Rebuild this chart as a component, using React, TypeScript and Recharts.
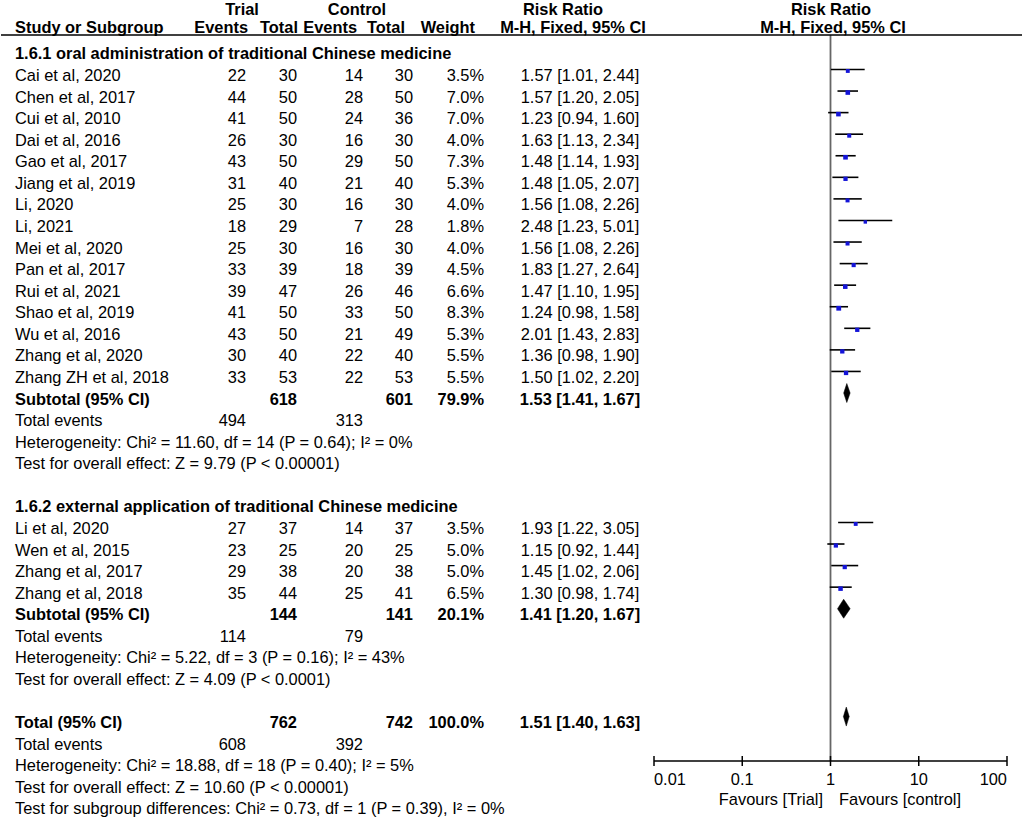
import React from "react";
import {
  ErrorBar,
  ReferenceLine,
  Scatter,
  ScatterChart,
  XAxis,
  YAxis,
} from "recharts";

// 1.6.1 oral administration
const oralStudies = [
  "Cai et al, 2020",
  "Chen et al, 2017",
  "Cui et al, 2010",
  "Dai et al, 2016",
  "Gao et al, 2017",
  "Jiang et al, 2019",
  "Li, 2020",
  "Li, 2021",
  "Mei et al, 2020",
  "Pan et al, 2017",
  "Rui et al, 2021",
  "Shao et al, 2019",
  "Wu et al, 2016",
  "Zhang et al, 2020",
  "Zhang ZH et al, 2018",
];
const oralTrialEvents = [22, 44, 41, 26, 43, 31, 25, 18, 25, 33, 39, 41, 43, 30, 33];
const oralTrialTotal = [30, 50, 50, 30, 50, 40, 30, 29, 30, 39, 47, 50, 50, 40, 53];
const oralControlEvents = [14, 28, 24, 16, 29, 21, 16, 7, 16, 18, 26, 33, 21, 22, 22];
const oralControlTotal = [30, 50, 36, 30, 50, 40, 30, 28, 30, 39, 46, 50, 49, 40, 53];
const oralWeight = [3.5, 7.0, 7.0, 4.0, 7.3, 5.3, 4.0, 1.8, 4.0, 4.5, 6.6, 8.3, 5.3, 5.5, 5.5];
const oralRR = [1.57, 1.57, 1.23, 1.63, 1.48, 1.48, 1.56, 2.48, 1.56, 1.83, 1.47, 1.24, 2.01, 1.36, 1.5];
const oralLow = [1.01, 1.2, 0.94, 1.13, 1.14, 1.05, 1.08, 1.23, 1.08, 1.27, 1.1, 0.98, 1.43, 0.98, 1.02];
const oralHigh = [2.44, 2.05, 1.6, 2.34, 1.93, 2.07, 2.26, 5.01, 2.26, 2.64, 1.95, 1.58, 2.83, 1.9, 2.2];

// 1.6.2 external application
const extStudies = ["Li et al, 2020", "Wen et al, 2015", "Zhang et al, 2017", "Zhang et al, 2018"];
const extTrialEvents = [27, 23, 29, 35];
const extTrialTotal = [37, 25, 38, 44];
const extControlEvents = [14, 20, 20, 25];
const extControlTotal = [37, 25, 38, 41];
const extWeight = [3.5, 5.0, 5.0, 6.5];
const extRR = [1.93, 1.15, 1.45, 1.3];
const extLow = [1.22, 0.92, 1.02, 0.98];
const extHigh = [3.05, 1.44, 2.06, 1.74];

// subtotals and overall
const pooledLabels = ["Subtotal (95% CI)", "Subtotal (95% CI)", "Total (95% CI)"];
const pooledTrialTotal = [618, 144, 762];
const pooledControlTotal = [601, 141, 742];
const pooledWeight = [79.9, 20.1, 100.0];
const pooledRR = [1.53, 1.41, 1.51];
const pooledLow = [1.41, 1.2, 1.4];
const pooledHigh = [1.67, 1.67, 1.63];
const pooledTrialEvents = [494, 114, 608];
const pooledControlEvents = [313, 79, 392];
const heterogeneity = [
  "Heterogeneity: Chi² = 11.60, df = 14 (P = 0.64); I² = 0%",
  "Heterogeneity: Chi² = 5.22, df = 3 (P = 0.16); I² = 43%",
  "Heterogeneity: Chi² = 18.88, df = 18 (P = 0.40); I² = 5%",
];
const overallEffect = [
  "Test for overall effect: Z = 9.79 (P < 0.00001)",
  "Test for overall effect: Z = 4.09 (P < 0.0001)",
  "Test for overall effect: Z = 10.60 (P < 0.00001)",
];
const subgroupTest = "Test for subgroup differences: Chi² = 0.73, df = 1 (P = 0.39), I² = 0%";
const groupTitles = [
  "1.6.1 oral administration of traditional Chinese medicine",
  "1.6.2 external application of traditional Chinese medicine",
];

const axisTicks = [0.01, 0.1, 1, 10, 100];

const W = 1024;
const H = 822;
const FONT = "'Liberation Sans', Arial, sans-serif";
const FS = 16.4;

// row layout
const ROW0 = 53.4;
const ROW_H = 21.57;
const textY = (r: number) => ROW0 + ROW_H * r;
const PLOT_TOP = 35;
const PLOT_BOTTOM = 761;
const MARK_SHIFT = 5.5;
const yDomain = [
  (PLOT_TOP - ROW0 + MARK_SHIFT) / ROW_H,
  (PLOT_BOTTOM - ROW0 + MARK_SHIFT) / ROW_H,
];

const oralRows = oralStudies.map((_, i) => i + 1);
const extRows = extStudies.map((_, i) => i + 22);
const pooledRows = [16, 26, 31];

const studyPoints = [
  ...oralStudies.map((_, i) => ({
    x: oralRR[i],
    y: oralRows[i],
    w: oralWeight[i],
    err: [oralRR[i] - oralLow[i], oralHigh[i] - oralRR[i]],
  })),
  ...extStudies.map((_, i) => ({
    x: extRR[i],
    y: extRows[i],
    w: extWeight[i],
    err: [extRR[i] - extLow[i], extHigh[i] - extRR[i]],
  })),
];

const diamondData = pooledRR.map((rr, i) => [
  { x: pooledLow[i], y: pooledRows[i] },
  { x: rr, y: pooledRows[i] },
  { x: pooledHigh[i], y: pooledRows[i] },
]);

const WeightSquare = (props: any) => {
  const { cx, cy, payload } = props;
  const s = 2.2 + 0.9 * Math.sqrt(payload.w);
  return <rect x={cx - s / 2} y={cy - s / 2 + 1.5} width={s} height={s} fill="#1414d8" />;
};

const Hidden = () => <g />;

const diamondLine = (props: any) => {
  const p = props.points;
  if (!p || p.length < 3) return <g />;
  const h = 9.5;
  const pts = `${p[0].x},${p[0].y} ${p[1].x},${p[1].y - h} ${p[2].x},${p[2].y} ${p[1].x},${p[1].y + h}`;
  return <polygon points={pts} fill="#000" stroke="#000" strokeWidth={0.5} />;
};

const LogTick = (props: any) => {
  const { x, y, payload, index } = props;
  const anchor = index === 0 ? "start" : index === axisTicks.length - 1 ? "end" : "middle";
  return (
    <g>
      <line x1={x} x2={x} y1={y - 5} y2={y + 5} stroke="#000" strokeWidth={1.5} />
      <text
        x={x}
        y={y + 18}
        textAnchor={anchor}
        dominantBaseline="central"
        fontSize={FS}
        fontFamily={FONT}
        fill="#000"
      >
        {String(payload.value)}
      </text>
    </g>
  );
};

const T = ({
  x,
  y,
  anchor = "start",
  bold = false,
  children,
}: {
  x: number;
  y: number;
  anchor?: "start" | "middle" | "end";
  bold?: boolean;
  children: React.ReactNode;
}) => (
  <text x={x} y={y} textAnchor={anchor} dominantBaseline="central" fontWeight={bold ? 700 : 400}>
    {children}
  </text>
);

const fmtRR = (rr: number, lo: number, hi: number) =>
  `${rr.toFixed(2)} [${lo.toFixed(2)}, ${hi.toFixed(2)}]`;

const StudyText = ({
  r,
  name,
  te,
  tt,
  ce,
  ct,
  w,
  rr,
  lo,
  hi,
}: any) => {
  const y = textY(r);
  return (
    <g>
      <T x={15} y={y}>{name}</T>
      <T x={246} y={y} anchor="end">{te}</T>
      <T x={297} y={y} anchor="end">{tt}</T>
      <T x={363} y={y} anchor="end">{ce}</T>
      <T x={413} y={y} anchor="end">{ct}</T>
      <T x={484} y={y} anchor="end">{`${w.toFixed(1)}%`}</T>
      <T x={580} y={y} anchor="middle">{fmtRR(rr, lo, hi)}</T>
    </g>
  );
};

const SummaryText = ({ i }: { i: number }) => {
  const r = pooledRows[i];
  const y = textY(r);
  return (
    <g>
      <T x={15} y={y} bold>{pooledLabels[i]}</T>
      <T x={297} y={y} anchor="end" bold>{pooledTrialTotal[i]}</T>
      <T x={413} y={y} anchor="end" bold>{pooledControlTotal[i]}</T>
      <T x={484} y={y} anchor="end" bold>{`${pooledWeight[i].toFixed(1)}%`}</T>
      <T x={580} y={y} anchor="middle" bold>{fmtRR(pooledRR[i], pooledLow[i], pooledHigh[i])}</T>
      <T x={15} y={textY(r + 1)}>Total events</T>
      <T x={246} y={textY(r + 1)} anchor="end">{pooledTrialEvents[i]}</T>
      <T x={363} y={textY(r + 1)} anchor="end">{pooledControlEvents[i]}</T>
      <T x={15} y={textY(r + 2)}>{heterogeneity[i]}</T>
      <T x={15} y={textY(r + 3)}>{overallEffect[i]}</T>
    </g>
  );
};

export default function App() {
  return (
    <div style={{ position: "absolute", left: 0, top: 0, width: W, height: H, background: "#fff" }}>
      <ScatterChart
        width={W}
        height={H}
        margin={{ top: PLOT_TOP, right: W - 1007, bottom: H - PLOT_BOTTOM - 30, left: 654 }}
      >
        <XAxis
          type="number"
          dataKey="x"
          scale="log"
          domain={[0.01, 100]}
          allowDataOverflow
          ticks={axisTicks}
          interval={0}
          height={30}
          tickSize={0}
          tickMargin={0}
          tickLine={false}
          tick={<LogTick />}
          axisLine={{ stroke: "#000", strokeWidth: 1.5 }}
        />
        <YAxis type="number" dataKey="y" domain={yDomain} reversed allowDataOverflow hide />
        <ReferenceLine x={1} stroke="#666" strokeWidth={1.8} />
        <Scatter data={studyPoints} shape={<WeightSquare />} isAnimationActive={false}>
          <ErrorBar
            dataKey="err"
            direction="x"
            width={0}
            stroke="#000"
            strokeWidth={1.6}
            isAnimationActive={false}
          />
        </Scatter>
        {diamondData.map((d, i) => (
          <Scatter
            key={i}
            data={d}
            shape={<Hidden />}
            line={diamondLine}
            lineType="joint"
            isAnimationActive={false}
          />
        ))}
      </ScatterChart>
      <svg
        width={W}
        height={H}
        style={{ position: "absolute", left: 0, top: 0, pointerEvents: "none" }}
        fontFamily={FONT}
        fontSize={FS}
        fill="#000"
      >
        <T x={242} y={8.5} anchor="middle" bold>Trial</T>
        <T x={357} y={8.5} anchor="middle" bold>Control</T>
        <T x={563} y={8.5} anchor="middle" bold>Risk Ratio</T>
        <T x={831} y={8.5} anchor="middle" bold>Risk Ratio</T>
        <T x={15} y={27} bold>Study or Subgroup</T>
        <T x={248} y={27} anchor="end" bold>Events</T>
        <T x={298} y={27} anchor="end" bold>Total</T>
        <T x={357} y={27} anchor="end" bold>Events</T>
        <T x={405} y={27} anchor="end" bold>Total</T>
        <T x={475} y={27} anchor="end" bold>Weight</T>
        <T x={573} y={27} anchor="middle" bold>M-H, Fixed, 95% CI</T>
        <T x={833} y={27} anchor="middle" bold>M-H, Fixed, 95% CI</T>
        <line x1={1} x2={1022} y1={35} y2={35} stroke="#000" strokeWidth={1.5} />

        <T x={15} y={textY(0)} bold>{groupTitles[0]}</T>
        {oralStudies.map((name, i) => (
          <StudyText
            key={name + i}
            r={oralRows[i]}
            name={name}
            te={oralTrialEvents[i]}
            tt={oralTrialTotal[i]}
            ce={oralControlEvents[i]}
            ct={oralControlTotal[i]}
            w={oralWeight[i]}
            rr={oralRR[i]}
            lo={oralLow[i]}
            hi={oralHigh[i]}
          />
        ))}
        <SummaryText i={0} />

        <T x={15} y={textY(21)} bold>{groupTitles[1]}</T>
        {extStudies.map((name, i) => (
          <StudyText
            key={name + i}
            r={extRows[i]}
            name={name}
            te={extTrialEvents[i]}
            tt={extTrialTotal[i]}
            ce={extControlEvents[i]}
            ct={extControlTotal[i]}
            w={extWeight[i]}
            rr={extRR[i]}
            lo={extLow[i]}
            hi={extHigh[i]}
          />
        ))}
        <SummaryText i={1} />

        <SummaryText i={2} />
        <T x={15} y={textY(35)}>{subgroupTest}</T>

        <T x={823} y={799} anchor="end">Favours [Trial]</T>
        <T x={839} y={799}>Favours [control]</T>
      </svg>
    </div>
  );
}
